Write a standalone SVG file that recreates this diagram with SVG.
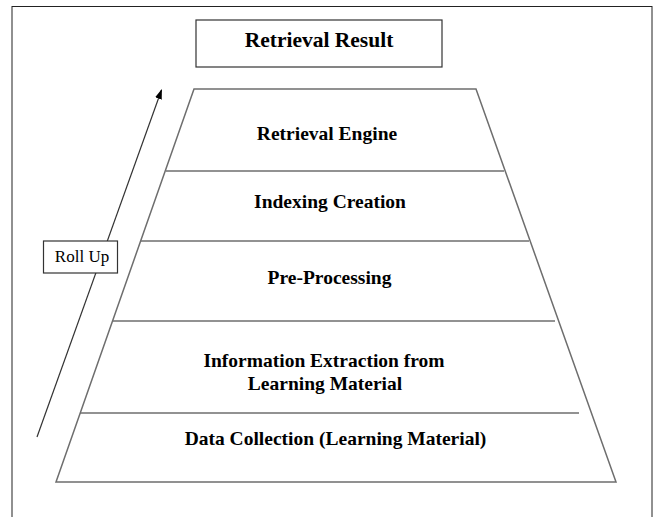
<svg xmlns="http://www.w3.org/2000/svg" width="654" height="517" viewBox="0 0 654 517">
  <defs>
    <marker id="arrowhead" markerWidth="10" markerHeight="8" refX="9" refY="4" orient="auto" markerUnits="userSpaceOnUse">
      <path d="M0,0.5 L10,4 L0,7.5 Z" fill="#000"/>
    </marker>
    <style>
      .frame { fill: #fff; stroke: #222; stroke-width: 1; }
      .box { fill: #fff; stroke: #333; stroke-width: 1.2; }
      .tier { fill: none; stroke: #6e6e6e; stroke-width: 1.5; }
      .sep { stroke: #6e6e6e; stroke-width: 1.5; }
      .edge { stroke: #333; stroke-width: 1.2; fill: none; }
      .label { font-family: "Liberation Serif", "Times New Roman", serif; font-weight: bold; font-size: 19.5px; fill: #000; text-anchor: middle; }
      .title { font-size: 21.5px; }
      .note { font-family: "Liberation Serif", "Times New Roman", serif; font-size: 17px; fill: #000; text-anchor: middle; }
    </style>
  </defs>

  <!-- page frame -->
  <rect class="frame" x="12" y="6.5" width="640" height="520"/>

  <!-- connectors -->
  <g id="connectors">
    <line class="edge" x1="37" y1="437" x2="161.5" y2="90" marker-end="url(#arrowhead)"/>
  </g>

  <g id="retrieval-result">
    <rect class="box" x="196" y="20" width="246" height="47"/>
    <text class="label title" x="319" y="47">Retrieval Result</text>
  </g>

  <g id="roll-up">
    <rect class="box" x="43.5" y="241" width="74" height="32"/>
    <text class="note" x="82" y="262">Roll Up</text>
  </g>

  <!-- pyramid outline -->
  <g id="pyramid">
    <polygon class="tier" points="194,89 476,89 616,482 56,482"/>
  </g>

  <g id="retrieval-engine">
    <text class="label" x="327" y="140">Retrieval Engine</text>
  </g>
  <g id="indexing-creation">
    <line class="sep" x1="166" y1="171" x2="504" y2="171"/>
    <text class="label" x="330" y="208">Indexing Creation</text>
  </g>
  <g id="pre-processing">
    <line class="sep" x1="141" y1="241" x2="529" y2="241"/>
    <text class="label" x="329.5" y="284">Pre-Processing</text>
  </g>
  <g id="information-extraction">
    <line class="sep" x1="113" y1="321" x2="555" y2="321"/>
    <text class="label" x="324" y="366.5">Information Extraction from</text>
    <text class="label" x="325" y="390">Learning Material</text>
  </g>
  <g id="data-collection">
    <line class="sep" x1="80" y1="413" x2="579" y2="413"/>
    <text class="label" x="335.5" y="445">Data Collection (Learning Material)</text>
  </g>
</svg>
